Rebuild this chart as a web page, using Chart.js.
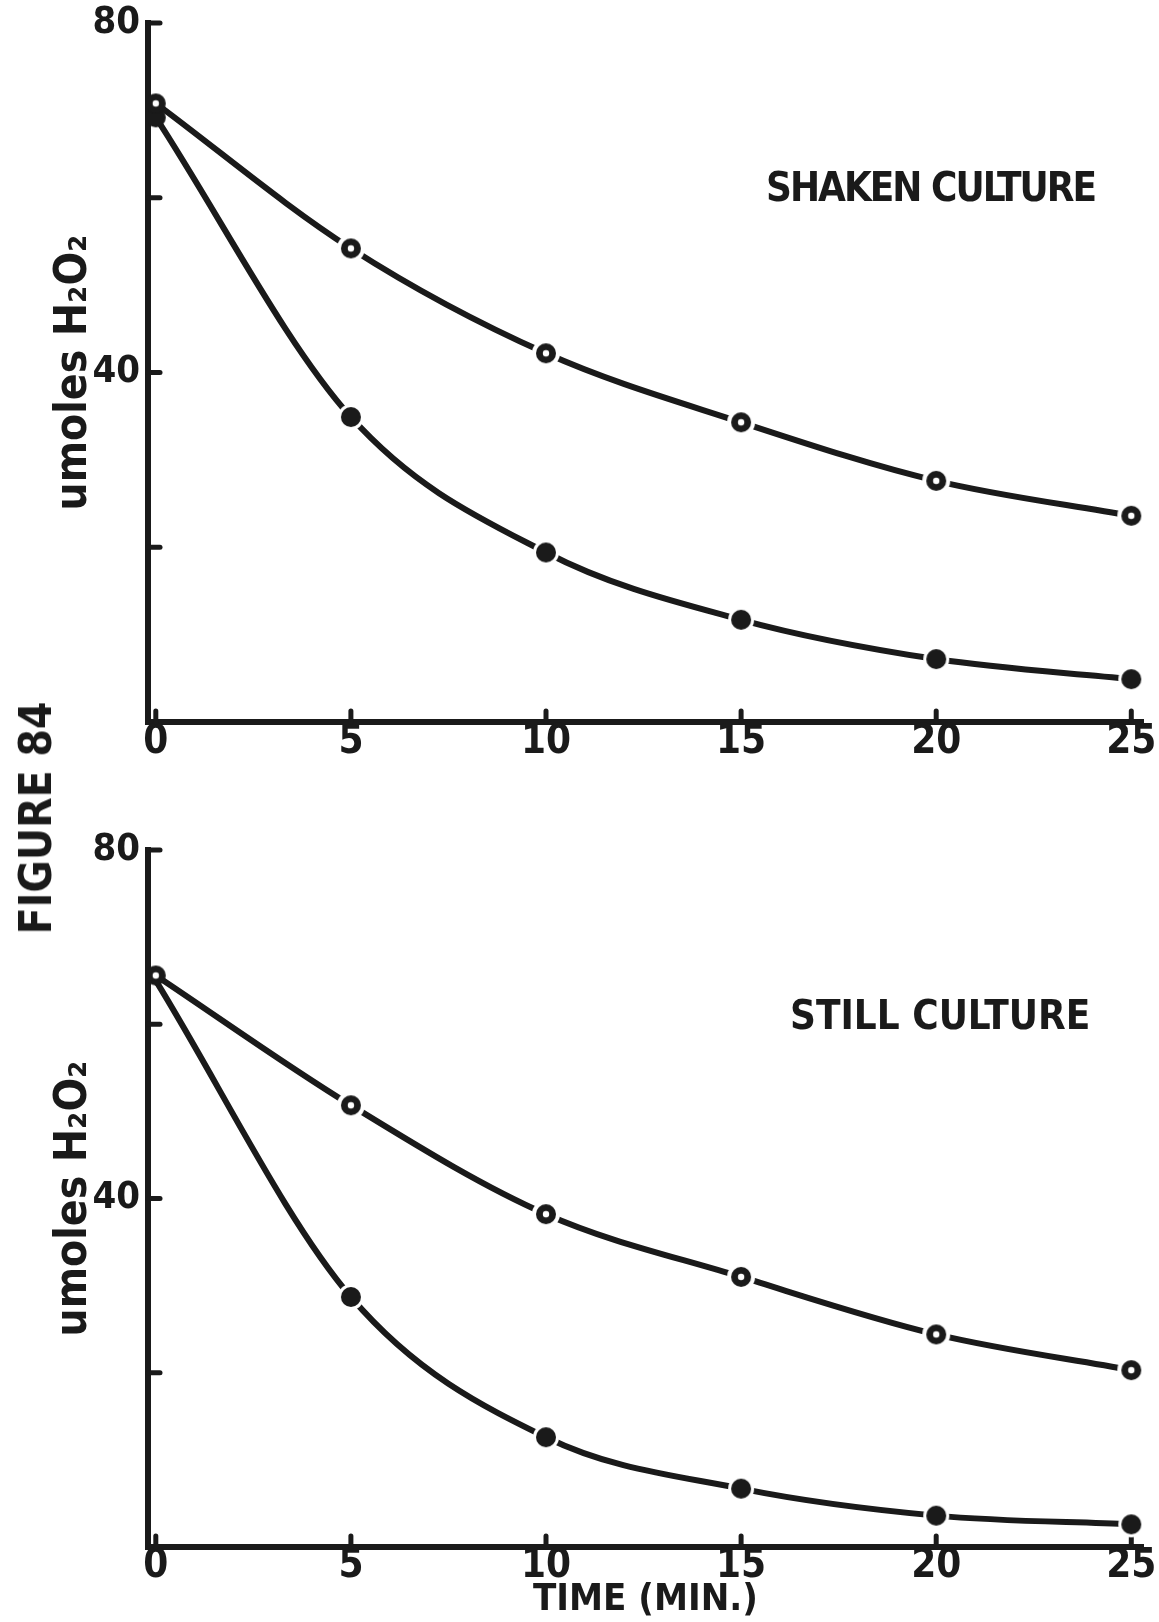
<!DOCTYPE html>
<html>
<head>
<meta charset="utf-8">
<script src="https://cdn.jsdelivr.net/npm/chart.js@4.4.1/dist/chart.umd.min.js"></script>
<style>
  html, body { margin: 0; padding: 0; background: #ffffff; }
  body { width: 1159px; height: 1622px; position: relative; overflow: hidden; }
  .pane { position: absolute; left: 0; }
  .lbl { position: absolute; font-family: 'Liberation Sans Narrow', 'DejaVu Sans Condensed', 'Arial Narrow', sans-serif; font-weight: bold; color: #1a1a1a; line-height: 1; white-space: nowrap; }
</style>
</head>
<body>
<div class="pane" style="top:0; width:1159px; height:790px;"><canvas id="top" width="1159" height="790"></canvas></div>
<div class="pane" style="top:790px; width:1159px; height:832px;"><canvas id="bottom" width="1159" height="832"></canvas></div>
<div class="lbl" style="left:766px; top:167px; font-size:40px; letter-spacing:-2px;">SHAKEN CULTURE</div>
<div class="lbl" style="left:790px; top:995px; font-size:40px; letter-spacing:0px;">STILL CULTURE</div>
<div class="lbl" style="left:36px; top:818px; font-size:44px; transform: translate(-50%,-50%) rotate(-90deg);">FIGURE 84</div>
<script>
// ---- data ----
const times = [0, 5, 10, 15, 20, 25];
const shakenOpen   = [70.8, 54.2, 42.2, 34.3, 27.6, 23.6];
const shakenFilled = [69.2, 34.9, 19.4, 11.7, 7.2, 4.9];
const stillOpen    = [65.6, 50.7, 38.2, 31.0, 24.4, 20.3];
const stillFilled  = [65.0, 28.7, 12.6, 6.7, 3.6, 2.6];
const xTicks = [0, 5, 10, 15, 20, 25];
const yTicks = [0, 20, 40, 60, 80];
const yLabeled = [80, 40];
const xTitle = 'TIME (MIN.)';
const yTitle = 'umoles H\u2082O\u2082';

// ---- style ----
const INK = '#1a1a1a';
const FONT = "'Liberation Sans Narrow', 'DejaVu Sans Condensed', 'Arial Narrow', sans-serif";

function pts(ys) { return times.map((t, i) => ({ x: t, y: ys[i] })); }

// marker images: ring (open) or disc (filled), optionally with a white halo that breaks the line
function marker(filled, halo) {
  const R = 10, size = 2 * (R + halo) + 2;
  const c = document.createElement('canvas');
  c.width = size; c.height = size;
  const g = c.getContext('2d');
  const m = size / 2;
  if (halo > 0) { g.fillStyle = '#ffffff'; g.beginPath(); g.arc(m, m, R + halo, 0, Math.PI * 2); g.fill(); }
  g.fillStyle = INK; g.beginPath(); g.arc(m, m, R, 0, Math.PI * 2); g.fill();
  if (!filled) { g.fillStyle = '#ffffff'; g.beginPath(); g.arc(m, m, 3.2, 0, Math.PI * 2); g.fill(); }
  return c;
}
const openPlain = marker(false, 0), openHalo = marker(false, 4);
const filledPlain = marker(true, 0), filledHalo = marker(true, 3);

const inwardTicks = {
  id: 'inwardTicks',
  beforeDatasetsDraw(chart) {
    const { ctx, chartArea } = chart;
    const x = chart.scales.x, y = chart.scales.y;
    ctx.save();
    ctx.strokeStyle = INK;
    ctx.lineWidth = 5;
    ctx.lineCap = 'round';
    yTicks.forEach(v => {
      if (v === 0) return;
      const py = y.getPixelForValue(v);
      ctx.beginPath(); ctx.moveTo(chartArea.left, py); ctx.lineTo(chartArea.left + 12, py); ctx.stroke();
    });
    xTicks.forEach(v => {
      const px = x.getPixelForValue(v);
      ctx.beginPath(); ctx.moveTo(px, chartArea.bottom); ctx.lineTo(px, chartArea.bottom - 11); ctx.stroke();
    });
    ctx.restore();
  }
};

function makeChart(id, openVals, filledVals, opts) {
  const openDs = {
    data: pts(openVals), showLine: true, borderColor: INK, borderWidth: 6, borderCapStyle: 'round',
    cubicInterpolationMode: 'monotone', pointRadius: 10,
    pointStyle: times.map((t, i) => i === 0 ? openPlain : openHalo), fill: false
  };
  const filledDs = {
    data: pts(filledVals), showLine: true, borderColor: INK, borderWidth: 6, borderCapStyle: 'round',
    cubicInterpolationMode: 'monotone', pointRadius: opts.filledRadius,
    pointStyle: times.map((t, i) => i === 0 ? filledPlain : filledHalo), fill: false
  };
  return new Chart(document.getElementById(id), {
    type: 'scatter',
    data: { datasets: [openDs, filledDs] },
    options: {
      responsive: false, animation: false, events: [],
      layout: { padding: { top: opts.padTop, right: 13.4, left: 0, bottom: 0 } },
      plugins: { legend: { display: false }, tooltip: { enabled: false }, title: { display: false } },
      scales: {
        x: {
          type: 'linear', min: -0.2, max: 25.3,
          grid: { display: false, drawTicks: false },
          border: { display: true, color: INK, width: 6 },
          afterBuildTicks: s => { s.ticks = xTicks.map(v => ({ value: v })); },
          afterFit: s => { s.height = opts.xHeight; s.paddingLeft = 0; s.paddingRight = 0; },
          ticks: { color: INK, padding: opts.xPad, font: { family: FONT, weight: 'bold', size: 40, lineHeight: 1 }, maxRotation: 0, autoSkip: false },
          title: opts.xTitle ? { display: true, text: xTitle, color: INK, font: { family: FONT, weight: 'bold', size: 38, lineHeight: 1 }, padding: { top: 0, bottom: 3 } } : { display: false }
        },
        y: {
          type: 'linear', min: 0, max: 80,
          grid: { display: false, drawTicks: false },
          border: { display: true, color: INK, width: 6 },
          afterBuildTicks: s => { s.ticks = yTicks.map(v => ({ value: v })); },
          afterFit: s => { s.width = 148; s.paddingTop = 0; s.paddingBottom = 0; },
          ticks: { color: INK, padding: 8, font: { family: FONT, weight: 'bold', size: 38, lineHeight: 1 },
                   callback: v => yLabeled.includes(v) ? String(v) : '' },
          title: { display: true, text: yTitle, color: INK, font: { family: FONT, weight: 'bold', size: 44, lineHeight: 1 }, padding: { top: 53, bottom: 0 } }
        }
      }
    },
    plugins: [inwardTicks]
  });
}

makeChart('top', shakenOpen, shakenFilled, { padTop: 23, xHeight: 68, xPad: 1, xTitle: false, filledRadius: 10 });
makeChart('bottom', stillOpen, stillFilled, { padTop: 60, xHeight: 75, xPad: 0, xTitle: true, filledRadius: [0, 10, 10, 10, 10, 10] });
</script>
</body>
</html>
